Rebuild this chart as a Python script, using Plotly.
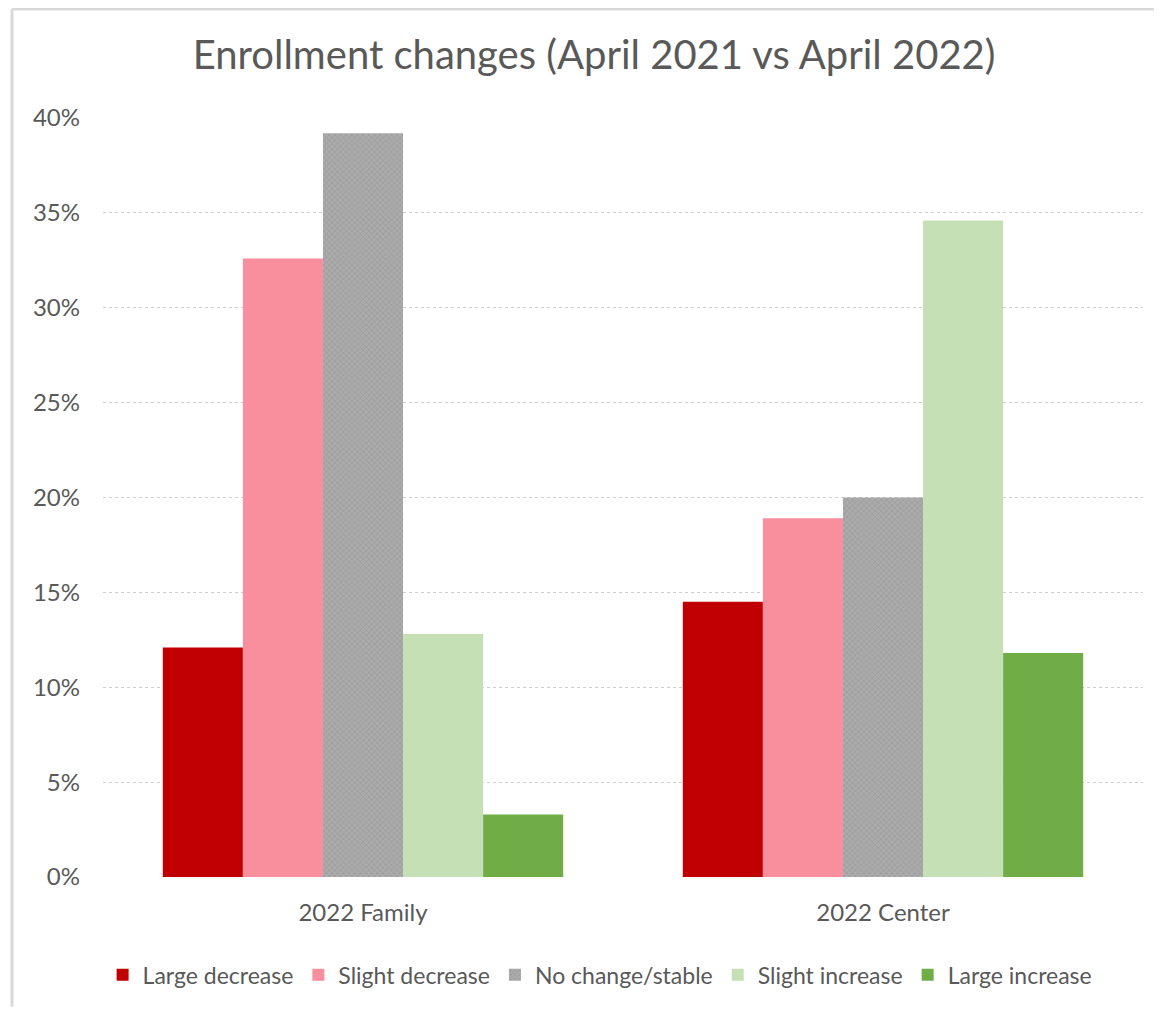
import plotly.graph_objects as go

# Data
groups = ['2022 Family', '2022 Center']
series_names = ['Large decrease', 'Slight decrease', 'No change/stable', 'Slight increase', 'Large increase']
large_decrease = [0.121, 0.145]
slight_decrease = [0.326, 0.189]
no_change = [0.392, 0.200]
slight_increase = [0.128, 0.346]
large_increase = [0.033, 0.118]
y_ticks = [0, 0.05, 0.10, 0.15, 0.20, 0.25, 0.30, 0.35, 0.40]

colors = ['#c00000', '#f98e9c', '#a6a6a6', '#c5e0b4', '#70ad47']
values = [large_decrease, slight_decrease, no_change, slight_increase, large_increase]

fig = go.Figure()
for name, vals, col in zip(series_names, values, colors):
    marker = dict(color=col, line=dict(width=0))
    if name == 'No change/stable':
        # textured grey fill like the original
        marker['pattern'] = dict(shape='x', size=4, fgcolor='#8a8a8a', bgcolor='#ababab', solidity=0.35)
    fig.add_trace(go.Bar(name=name, x=groups, y=vals, marker=marker))

fig.update_layout(
    barmode='group',
    bargap=0.23,
    bargroupgap=0,
    width=1147,
    height=999,
    paper_bgcolor='white',
    plot_bgcolor='white',
    font=dict(family='Lato, Liberation Sans, sans-serif', color='#595959', size=24),
    title=dict(text='Enrollment changes (April 2021 vs April 2022)',
               x=0.511, xanchor='center', y=0.953, yanchor='middle',
               font=dict(size=40, color='#595959')),
    margin=dict(l=95, r=12, t=110, b=130, autoexpand=False),
    legend=dict(orientation='h', x=0.478, xanchor='center', y=-0.129, yanchor='middle',
                font=dict(size=23, color='#595959'), itemwidth=30, traceorder='normal'),
    showlegend=True,
)
fig.update_yaxes(range=[0, 0.4], tickvals=y_ticks, tickformat='.0%',
                 showgrid=True, gridcolor='#d0d0d0', griddash='dot', gridwidth=1,
                 zeroline=False, showline=False, ticks='', ticklabelstandoff=22,
                 tickfont=dict(size=24, color='#595959'))
fig.update_xaxes(showline=False, ticks='', ticklabelstandoff=19,
                 tickfont=dict(size=24, color='#595959'))

# outer chart border (only top and left edges visible in the original)
fig.add_shape(type='line', xref='paper', yref='paper',
              x0=-0.0875, x1=1.0106, y0=1.1436, y1=1.1436,
              line=dict(color='#d9d9d9', width=3), layer='below')
fig.add_shape(type='line', xref='paper', yref='paper',
              x0=-0.0875, x1=-0.0875, y0=1.1436, y1=-0.171,
              line=dict(color='#d9d9d9', width=3), layer='below')

fig.write_html('out.html')
